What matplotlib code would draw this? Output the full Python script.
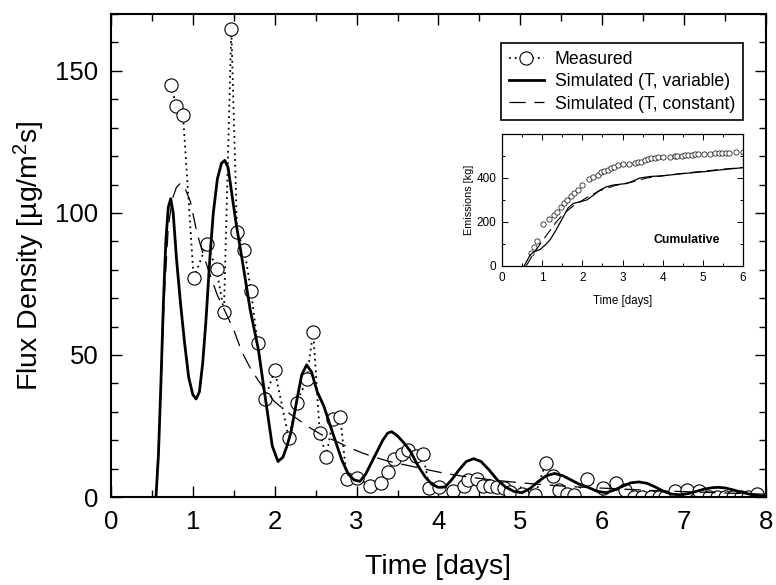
import matplotlib
matplotlib.use('Agg')
import matplotlib.pyplot as plt
from matplotlib.ticker import MultipleLocator

plt.rcParams['font.family'] = ['Liberation Sans', 'DejaVu Sans']
plt.rcParams['mathtext.fontset'] = 'custom'
plt.rcParams['mathtext.rm'] = 'Liberation Sans'
plt.rcParams['mathtext.it'] = 'Liberation Sans'

# measured flux density (days, ug/m2s)
meas_t = [0.73, 0.80, 0.88, 1.01, 1.17, 1.29, 1.38, 1.47, 1.54, 1.63, 1.71, 1.79,
          1.88, 2.00, 2.17, 2.27, 2.39, 2.47, 2.55, 2.63, 2.71, 2.80, 2.88, 3.01,
          3.17, 3.30, 3.38, 3.46, 3.55, 3.63, 3.72, 3.81, 3.89, 4.01, 4.18, 4.31,
          4.36, 4.47, 4.55, 4.63, 4.72, 4.80, 4.88, 5.02, 5.18, 5.31, 5.40, 5.47,
          5.57, 5.65, 5.82, 6.01, 6.17, 6.28, 6.39, 6.49, 6.60, 6.69, 6.77, 6.89,
          7.03, 7.18, 7.30, 7.40, 7.50, 7.60, 7.70, 7.78, 7.89]
meas_f = [145, 137.7, 134.5, 77, 89, 80.3, 65.2, 164.8, 93.4, 87, 72.5, 54.3,
          34.4, 44.7, 20.9, 33, 41.5, 58.2, 22.6, 14.2, 27.3, 28.3, 6.2, 6.8,
          3.8, 4.8, 8.7, 13.3, 15, 16.5, 14.5, 15.1, 3.3, 3.6, 2.1, 3.9,
          6, 6.2, 3.9, 3.9, 3.6, 3, 1.9, 1, 0.7, 11.9, 7.4, 2.5,
          1, 0.7, 6.2, 3, 4.8, 2.5, 0, 0, 0, 0, 0, 2.2,
          2.5, 2.2, 0, 0, 0, 0, 0, 0, 1]

# simulated, T variable
var_t = [0.55, 0.58, 0.61, 0.64, 0.67, 0.70, 0.73, 0.76, 0.80, 0.85, 0.90, 0.95,
         1.00, 1.04, 1.08, 1.12, 1.16, 1.21, 1.25, 1.30, 1.35, 1.39, 1.43, 1.48,
         1.53, 1.60, 1.70, 1.80, 1.90, 1.97, 2.04, 2.10, 2.15, 2.20, 2.27, 2.33,
         2.39, 2.45, 2.52, 2.60, 2.68, 2.75, 2.82, 2.90, 2.97, 3.04, 3.11, 3.18,
         3.25, 3.32, 3.38, 3.43, 3.50, 3.58, 3.66, 3.75, 3.84, 3.92, 4.00, 4.08,
         4.16, 4.25, 4.34, 4.43, 4.52, 4.62, 4.72, 4.82, 4.92, 5.02, 5.12, 5.22,
         5.32, 5.42, 5.52, 5.62, 5.72, 5.82, 5.94, 6.05, 6.15, 6.25, 6.35, 6.45,
         6.55, 6.65, 6.75, 6.85, 6.95, 7.05, 7.15, 7.25, 7.35, 7.42, 7.50, 7.60,
         7.70, 7.80, 7.90, 8.00]
var_f = [0, 15, 40, 68, 90, 102, 105, 100, 84, 68, 54, 42,
         36, 34.5, 37, 47, 62, 85, 100, 112, 117.5, 118.5, 116, 106,
         96, 84, 66, 52, 32, 18, 12.5, 14, 18, 23, 34, 43,
         46.5, 44, 37, 32, 25, 19, 13, 8, 6, 5.5, 8, 12,
         16, 20, 22.5, 23, 21.5, 19, 16, 11, 7, 4.5, 3.4, 3.5,
         6, 9.5, 12.5, 13.5, 12.5, 9.5, 6, 3.5, 2, 1.5, 3, 5.5,
         7.5, 8.3, 7.5, 6, 4.5, 3.5, 2, 1.5, 2.5, 3.8, 5, 5.3,
         4.8, 3.5, 2, 1, 0.8, 1.2, 2, 2.8, 3.3, 3.4, 3.2, 2.5,
         1.7, 1, 0.5, 0.2]

# simulated, T constant
const_t = [0.55, 0.60, 0.65, 0.70, 0.75, 0.80, 0.85, 0.90, 0.97, 1.05, 1.11, 1.20,
           1.30, 1.40, 1.50, 1.60, 1.70, 1.80, 1.90, 2.00, 2.15, 2.30, 2.45, 2.60,
           2.76, 2.90, 3.08, 3.20, 3.40, 3.61, 3.80, 4.05, 4.30, 4.60, 5.00, 5.30,
           5.65, 6.10, 6.60, 7.00, 7.50, 8.00]
const_f = [0, 30, 70, 95, 105, 109, 110.5, 109, 104, 93, 87, 79,
           71, 65, 58.8, 51, 45.5, 41, 37, 33.5, 30, 27, 24, 21.5,
           19.5, 17.5, 15.4, 14.2, 12.5, 11.2, 10, 8.5, 7.3, 6.2, 5, 4.3,
           3.6, 3, 2.3, 1.9, 1.4, 1.0]

# cumulative emissions (inset, kg)
cum_meas_t = meas_t[:52]
cum_meas = [60, 85, 112, 190, 215, 232, 245, 268, 285, 300, 318, 332,
            345, 370, 395, 405, 415, 425, 432, 437, 445, 452, 458, 462,
            465, 468, 472, 475, 480, 485, 489, 492, 494, 495, 497, 499,
            500, 502, 503, 505, 506, 507, 508, 508, 509, 512, 514, 515,
            515, 515, 517, 519]
cum_var_t = [0.55, 0.7, 0.8, 0.95, 1.1, 1.2, 1.35, 1.53, 1.65, 1.78, 1.95, 2.11,
             2.3, 2.44, 2.6, 2.77, 3.1, 3.25, 3.43, 3.7, 4.0, 4.5, 5.1, 5.5, 6.0]
cum_var = [0, 50, 65, 75, 100, 120, 165, 225, 265, 285, 292, 300,
           325, 345, 360, 368, 375, 385, 400, 407, 410, 420, 430, 438, 447]
cum_const_t = [0.6, 0.8, 0.95, 1.15, 1.35, 1.55, 1.75, 2.1, 2.4, 2.8, 3.2, 3.6,
               4.0, 4.7, 5.5, 6.0]
cum_const = [0, 60, 100, 150, 200, 240, 270, 310, 340, 365, 380, 400,
             410, 425, 440, 448]

fig = plt.figure(figsize=(7.76, 5.85), dpi=100)
ax = fig.add_axes([0.143, 0.1504, 0.844, 0.8256])

ax.plot(meas_t, meas_f, color='black', linestyle=(0, (1, 2.2)), lw=1.3,
        marker='o', ms=9.5, mfc='white', mec='black', mew=0.8, label='Measured')
ax.plot(var_t, var_f, color='black', lw=2.0, label='Simulated (T, variable)')
ax.plot(const_t, const_f, color='black', lw=0.9, dashes=(13, 7),
        label='Simulated (T, constant)')

ax.set_xlim(0, 8)
ax.set_ylim(0, 170)
ax.xaxis.set_major_locator(MultipleLocator(1))
ax.xaxis.set_minor_locator(MultipleLocator(0.5))
ax.yaxis.set_major_locator(MultipleLocator(50))
ax.yaxis.set_minor_locator(MultipleLocator(10))
ax.tick_params(which='both', direction='in', top=True, right=True, width=1.0)
ax.tick_params(which='major', length=8, labelsize=18.5, pad=9)
ax.tick_params(which='minor', length=5)
for s in ax.spines.values():
    s.set_linewidth(1.5)
ax.set_xlabel('Time [days]', fontsize=20.5, labelpad=15)
ax.set_ylabel(r'Flux Density [µg/m$^2$s]', fontsize=20.5, labelpad=6)

leg = ax.legend(loc='upper right', bbox_to_anchor=(743 / 776, 1 - 43 / 585),
                bbox_transform=fig.transFigure, borderaxespad=0, fontsize=12.7,
                fancybox=False, framealpha=1, edgecolor='black', handlelength=2.0,
                handletextpad=0.6, labelspacing=0.3, borderpad=0.45)
leg.get_frame().set_linewidth(1.2)

# inset: cumulative emissions
ins = fig.add_axes([502 / 776, 1 - 266 / 585, 241 / 776, 132 / 585])
ins.plot(cum_meas_t, cum_meas, linestyle='none', marker='o', ms=3.8,
         mfc='white', mec='black', mew=0.5)
ins.plot(cum_var_t, cum_var, color='black', lw=0.9)
ins.plot(cum_const_t, cum_const, color='black', lw=0.8, dashes=(10, 5))
ins.set_xlim(0, 6)
ins.set_ylim(0, 600)
ins.xaxis.set_major_locator(MultipleLocator(1))
ins.xaxis.set_minor_locator(MultipleLocator(0.5))
ins.set_yticks([0, 200, 400])
ins.yaxis.set_minor_locator(MultipleLocator(100))
ins.tick_params(which='both', direction='in', top=True, right=True, width=0.7)
ins.tick_params(which='major', length=4, labelsize=8.5, pad=4)
ins.tick_params(which='minor', length=2.5)
for s in ins.spines.values():
    s.set_linewidth(0.9)
ins.set_xlabel('Time [days]', fontsize=8.3, labelpad=8)
ins.set_ylabel('Emissions [kg]', fontsize=7.8, labelpad=2)
ins.text(4.6, 120, 'Cumulative', fontsize=8.8, fontweight='bold', ha='center', va='center')

fig.savefig('out.png', dpi=100)
